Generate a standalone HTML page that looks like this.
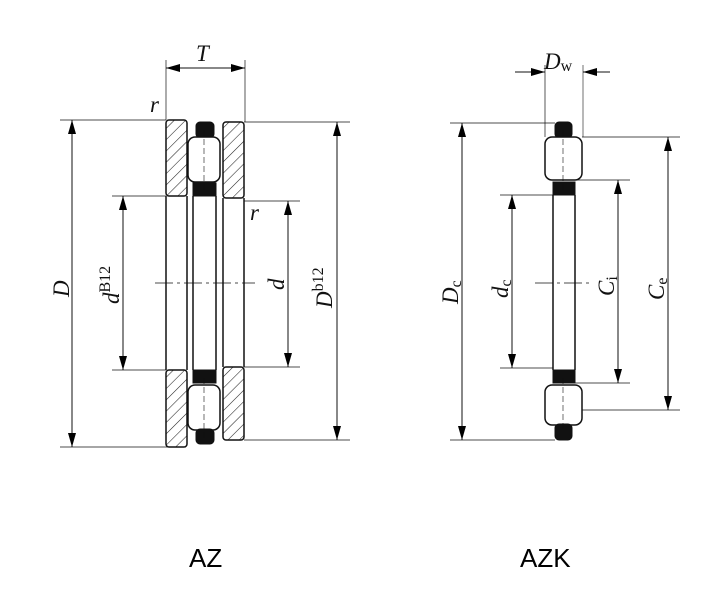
<!DOCTYPE html>
<html><head><meta charset="utf-8"><style>
html,body{margin:0;padding:0;background:#fff;}
svg{display:block;}
.t{font-family:"Liberation Serif",serif;font-style:italic;font-size:23px;fill:#111;}
.s{font-family:"Liberation Serif",serif;font-size:16px;fill:#111;}
.lab{font-family:"Liberation Sans",sans-serif;font-size:26px;fill:#000;}
</style></head><body>
<svg width="716" height="610" viewBox="0 0 716 610" xmlns="http://www.w3.org/2000/svg">
<defs>
<pattern id="h" patternUnits="userSpaceOnUse" width="8" height="8" patternTransform="rotate(45)">
<line x1="0" y1="0" x2="0" y2="8" stroke="#222" stroke-width="1.1"/>
</pattern>
<marker id="a" markerWidth="14" markerHeight="8" refX="14" refY="4" orient="auto" markerUnits="userSpaceOnUse">
<path d="M0,0 L14,4 L0,8 Z" fill="#000"/>
</marker>
</defs>
<g stroke="#111" fill="none" stroke-width="1">
<line x1="60" y1="120" x2="166" y2="120" stroke-width="0.7"/>
<line x1="60" y1="447" x2="186" y2="447" stroke-width="0.7"/>
<line x1="112" y1="196" x2="166" y2="196" stroke-width="0.7"/>
<line x1="112" y1="370" x2="166" y2="370" stroke-width="0.7"/>
<line x1="244" y1="122" x2="350" y2="122" stroke-width="0.7"/>
<line x1="244" y1="440" x2="350" y2="440" stroke-width="0.7"/>
<line x1="244" y1="201" x2="300" y2="201" stroke-width="0.7"/>
<line x1="244" y1="367" x2="300" y2="367" stroke-width="0.7"/>
<line x1="166" y1="60" x2="166" y2="120" stroke-width="0.7"/>
<line x1="245" y1="60" x2="245" y2="122" stroke-width="0.7"/>
<line x1="205" y1="68" x2="166" y2="68" marker-end="url(#a)"/>
<line x1="205" y1="68" x2="245" y2="68" marker-end="url(#a)"/>
<line x1="72" y1="283" x2="72" y2="120" marker-end="url(#a)"/>
<line x1="72" y1="283" x2="72" y2="447" marker-end="url(#a)"/>
<line x1="123" y1="283" x2="123" y2="196" marker-end="url(#a)"/>
<line x1="123" y1="283" x2="123" y2="370" marker-end="url(#a)"/>
<line x1="288" y1="283" x2="288" y2="201" marker-end="url(#a)"/>
<line x1="288" y1="283" x2="288" y2="367" marker-end="url(#a)"/>
<line x1="337" y1="283" x2="337" y2="122" marker-end="url(#a)"/>
<line x1="337" y1="283" x2="337" y2="440" marker-end="url(#a)"/>
<rect x="166" y="120" width="21" height="76" rx="3" fill="url(#h)" stroke-width="1.5"/>
<rect x="166" y="370" width="21" height="77" rx="3" fill="url(#h)" stroke-width="1.5"/>
<line x1="166" y1="196" x2="166" y2="370" stroke-width="1.5"/>
<line x1="187" y1="196" x2="187" y2="370" stroke-width="1.5"/>
<rect x="223" y="122" width="21" height="76" rx="3" fill="url(#h)" stroke-width="1.5"/>
<rect x="223" y="367" width="21" height="73" rx="3" fill="url(#h)" stroke-width="1.5"/>
<line x1="223" y1="198" x2="223" y2="367" stroke-width="1.5"/>
<line x1="244" y1="198" x2="244" y2="367" stroke-width="1.5"/>
<rect x="196" y="122" width="18" height="16" rx="4" fill="#111"/>
<rect x="188" y="137" width="32" height="45" rx="7" fill="#fff" stroke-width="1.5"/>
<rect x="193" y="183" width="23" height="13" fill="#111"/>
<line x1="193" y1="196" x2="193" y2="370" stroke-width="1.5"/>
<line x1="216" y1="196" x2="216" y2="370" stroke-width="1.5"/>
<rect x="193" y="370" width="23" height="13" fill="#111"/>
<rect x="188" y="385" width="32" height="45" rx="7" fill="#fff" stroke-width="1.5"/>
<rect x="196" y="429" width="18" height="15" rx="4" fill="#111"/>
<line x1="155" y1="283" x2="255" y2="283" stroke-width="0.8" stroke-dasharray="18,4,3,4"/>
<line x1="204" y1="130" x2="204" y2="190" stroke-width="0.6" stroke-dasharray="6,3"/>
<line x1="204" y1="378" x2="204" y2="440" stroke-width="0.6" stroke-dasharray="6,3"/>

<line x1="450" y1="123" x2="555" y2="123" stroke-width="0.7"/>
<line x1="450" y1="440" x2="555" y2="440" stroke-width="0.7"/>
<line x1="500" y1="195" x2="553" y2="195" stroke-width="0.7"/>
<line x1="500" y1="368" x2="553" y2="368" stroke-width="0.7"/>
<line x1="575" y1="180" x2="630" y2="180" stroke-width="0.7"/>
<line x1="575" y1="383" x2="630" y2="383" stroke-width="0.7"/>
<line x1="582" y1="137" x2="680" y2="137" stroke-width="0.7"/>
<line x1="582" y1="410" x2="680" y2="410" stroke-width="0.7"/>
<line x1="545" y1="65" x2="545" y2="137" stroke-width="0.7"/>
<line x1="583" y1="65" x2="583" y2="137" stroke-width="0.6"/>
<line x1="515" y1="72" x2="545" y2="72" marker-end="url(#a)"/>
<line x1="610" y1="72" x2="583" y2="72" marker-end="url(#a)"/>
<line x1="462" y1="283" x2="462" y2="123" marker-end="url(#a)"/>
<line x1="462" y1="283" x2="462" y2="440" marker-end="url(#a)"/>
<line x1="512" y1="283" x2="512" y2="195" marker-end="url(#a)"/>
<line x1="512" y1="283" x2="512" y2="368" marker-end="url(#a)"/>
<line x1="618" y1="283" x2="618" y2="180" marker-end="url(#a)"/>
<line x1="618" y1="283" x2="618" y2="383" marker-end="url(#a)"/>
<line x1="668" y1="283" x2="668" y2="137" marker-end="url(#a)"/>
<line x1="668" y1="283" x2="668" y2="410" marker-end="url(#a)"/>
<rect x="555" y="122" width="17" height="16" rx="4" fill="#111"/>
<rect x="545" y="137" width="37" height="43" rx="7" fill="#fff" stroke-width="1.5"/>
<rect x="553" y="182" width="22" height="13" fill="#111"/>
<line x1="553" y1="195" x2="553" y2="370" stroke-width="1.5"/>
<line x1="575" y1="195" x2="575" y2="370" stroke-width="1.5"/>
<rect x="553" y="370" width="22" height="13" fill="#111"/>
<rect x="545" y="385" width="37" height="40" rx="7" fill="#fff" stroke-width="1.5"/>
<rect x="555" y="424" width="17" height="16" rx="4" fill="#111"/>
<line x1="535" y1="283" x2="592" y2="283" stroke-width="0.8" stroke-dasharray="18,4,3,4"/>
<line x1="563" y1="130" x2="563" y2="190" stroke-width="0.6" stroke-dasharray="6,3"/>
<line x1="563" y1="378" x2="563" y2="432" stroke-width="0.6" stroke-dasharray="6,3"/>
</g>
<text class="t" x="196" y="61">T</text>
<text class="t" x="150" y="112">r</text>
<text class="t" x="250" y="220">r</text>
<text class="t" transform="translate(69,297) rotate(-90)">D</text>
<text class="t" transform="translate(119,304) rotate(-90)">d<tspan class="s" dy="-9" font-style="normal">B12</tspan></text>
<text class="t" transform="translate(284,290) rotate(-90)">d</text>
<text class="t" transform="translate(332,308) rotate(-90)">D<tspan class="s" dy="-9" font-style="normal">b12</tspan></text>
<text class="t" x="544" y="69">D<tspan class="s" dy="2" font-style="normal">w</tspan></text>
<text class="t" transform="translate(458,304) rotate(-90)">D<tspan class="s" dy="3" font-style="normal">c</tspan></text>
<text class="t" transform="translate(508,298) rotate(-90)">d<tspan class="s" dy="3" font-style="normal">c</tspan></text>
<text class="t" transform="translate(614,296) rotate(-90)">C<tspan class="s" dy="3" font-style="normal">i</tspan></text>
<text class="t" transform="translate(664,300) rotate(-90)">C<tspan class="s" dy="3" font-style="normal">e</tspan></text>
<text class="lab" x="189" y="567">AZ</text>
<text class="lab" x="520" y="567">AZK</text>
</svg>
</body></html>
